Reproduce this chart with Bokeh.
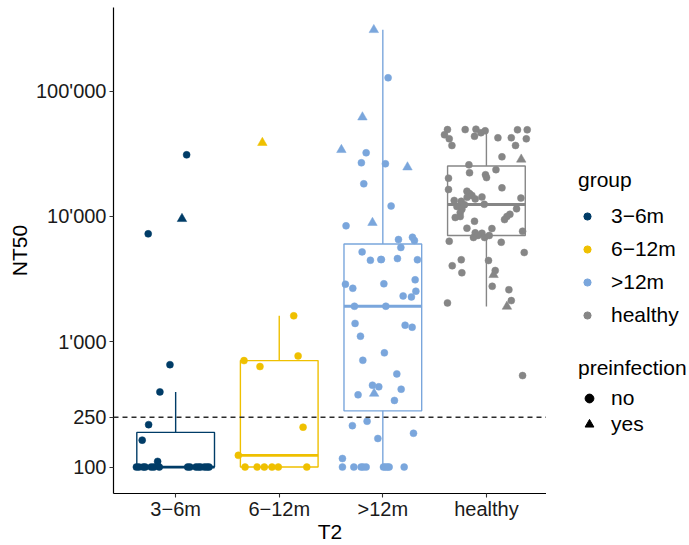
import numpy as np
from bokeh.plotting import figure
from bokeh.layouts import row
from bokeh.models import ColumnDataSource, FixedTicker, Legend, LegendItem, Span, Range1d
from bokeh.embed import file_html
from bokeh.resources import INLINE

# ---------------- data ----------------
categories = ["3−6m", "6−12m", ">12m", "healthy"]
preinfection_levels = ["no", "yes"]
y_ticks = [100, 250, 1000, 10000, 100000]
y_tick_labels = ["100", "250", "1'000", "10'000", "100'000"]
threshold = 250

g36_values = [100, 100, 100, 100, 100, 100, 100, 100, 100, 100, 100, 100, 100, 100, 100,
              111, 164, 218, 398, 656, 7260, 9570, 31000]
g36_jitter = [-0.379, -0.355, -0.313, -0.294, -0.236, -0.210, -0.158, 0.116, 0.138, 0.196,
              0.220, 0.240, 0.278, 0.302, 0.322,
              -0.174, -0.323, -0.261, -0.152, -0.055, -0.265, 0.061, 0.106]
g36_preinf = ["no"] * 21 + ["yes", "no"]

g612_values = [100, 100, 100, 100, 100, 100, 124, 208, 634, 707, 771, 1610, 38700]
g612_jitter = [-0.330, -0.214, -0.144, -0.070, -0.009, 0.266, -0.395, 0.230, -0.186,
               -0.340, 0.182, 0.140, -0.163]
g612_preinf = ["no"] * 12 + ["yes"]

g12_values = [308000, 127700, 61900, 34000, 32200, 26800, 26300, 24700, 18200, 12100,
              8410, 8900, 6540, 6820, 6420, 5650, 5210, 4470, 4530, 4530,
              4610, 4510, 2880, 2670, 2900, 3120, 2530, 2320, 2280, 1920,
              1920, 1400, 1355, 1305, 1107, 815, 711, 554, 450, 437,
              386, 418, 377, 340, 214, 232, 169, 186, 117,
              100, 100, 100, 100, 100, 100, 100, 100, 100, 100]
g12_jitter = [-0.087, 0.051, -0.197, -0.400, -0.161, -0.207, 0.025, 0.238, -0.184, 0.080,
              -0.355, -0.100, 0.151, 0.286, 0.305, 0.174, -0.200, -0.120, -0.019, -0.014,
              0.141, 0.334, -0.361, -0.290, 0.010, 0.312, 0.319, 0.196, 0.276, -0.274,
              0.029, -0.268, 0.215, 0.283, -0.216, 0.015, -0.193, 0.135, -0.100, -0.039,
              -0.084, 0.177, -0.239, 0.112, -0.294, -0.152, -0.048, 0.296, -0.390,
              -0.390, -0.280, -0.210, -0.190, -0.161, 0.006, 0.025, 0.045, 0.061, 0.206]
g12_preinf = ["yes", "no", "yes", "yes", "no", "no", "no", "yes", "no", "no",
              "no", "yes", "no", "no", "no", "no", "no", "no", "no", "no",
              "no", "no", "no", "no", "no", "no", "no", "no", "no", "no",
              "no", "no", "no", "no", "no", "no", "no", "no", "no", "no",
              "yes", "no", "no", "no", "no", "no", "no", "no", "no",
              "no", "no", "no", "no", "no", "no", "no", "no", "no", "no"]

gh_values = [49300, 44800, 41600, 36800, 49300, 49700, 43600, 46500, 48200, 42400,
             42400, 49100, 49100, 41600, 36800, 29900, 28500, 25800, 23600, 22300,
             21500, 20400, 20200, 16400, 16900, 15900, 15200, 14200, 14700, 14300,
             13800, 13400, 13200, 12400, 12000, 14000, 12500, 11400, 10700, 9800,
             9980, 11500, 10400, 9980, 9440, 9150, 8050, 8000, 7390, 7340,
             7040, 6790, 6790, 7040, 7620, 6340, 6220, 5150, 4510, 4040,
             3550, 4450, 3700, 3420, 2770, 2600, 2130, 1910, 2040, 537]
gh_jitter = [-0.376, -0.405, -0.359, -0.333, -0.205, -0.101, -0.115, -0.053, -0.012, 0.111,
             0.240, 0.300, 0.394, 0.385, 0.281, 0.150, 0.336, -0.169, 0.092, -0.163,
             -0.009, 0.001, -0.366, -0.366, 0.150, -0.188, -0.163, -0.186, -0.140, -0.043,
             -0.108, -0.311, -0.243, -0.212, -0.285, 0.333, -0.021, -0.237, -0.253, -0.301,
             -0.253, 0.291, 0.227, 0.198, 0.175, -0.115, -0.188, 0.053, -0.108, -0.043,
             -0.082, -0.125, -0.018, 0.027, 0.349, -0.359, 0.143, 0.365, -0.243, -0.330,
             -0.237, 0.020, 0.085, 0.069, 0.056, 0.217, 0.240, 0.198, -0.376, 0.349]
gh_preinf = ["no"] * 16 + ["yes"] + ["no"] * 46 + ["yes", "no", "no", "no", "yes", "no", "no"]

group_values = [g36_values, g612_values, g12_values, gh_values]
group_jitter = [g36_jitter, g612_jitter, g12_jitter, gh_jitter]
group_preinf = [g36_preinf, g612_preinf, g12_preinf, gh_preinf]

# ---------------- styles ----------------
colors = ["#003C67", "#EFC000", "#7AA6DC", "#868686"]
FONT = "Liberation Sans"
BOX_W = 0.75
MAIN_W = 546
TOTAL_W = 689
H = 545
FRAME_BOTTOM = 493  # canvas px of the frame's bottom edge (shared by both panels of the row)

p = figure(width=MAIN_W, height=H, output_backend="svg", toolbar_location=None,
           x_range=Range1d(0.4, 4.58), y_range=Range1d(10 ** 1.789, 10 ** 5.667),
           y_axis_type="log",
           min_border_left=113, min_border_right=0, min_border_top=7,
           min_border_bottom=H - FRAME_BOTTOM)
p.outline_line_color = None
p.grid.visible = False
p.background_fill_color = "white"
p.border_fill_color = "white"

# ---------------- box statistics (computed on log scale like ggplot) ----------------
bx, q1s, meds, q3s, los, his = [], [], [], [], [], []
for i, vals in enumerate(group_values):
    lv = np.log10(np.array(vals, dtype=float))
    q1, med, q3 = np.percentile(lv, [25, 50, 75])
    iqr = q3 - q1
    lo = lv[lv >= q1 - 1.5 * iqr].min()
    hi = lv[lv <= q3 + 1.5 * iqr].max()
    bx.append(i + 1)
    q1s.append(10 ** q1); meds.append(10 ** med); q3s.append(10 ** q3)
    los.append(10 ** lo); his.append(10 ** hi)

box_src = ColumnDataSource(dict(
    x=bx, left=[x - BOX_W / 2 for x in bx], right=[x + BOX_W / 2 for x in bx],
    q1=q1s, med=meds, q3=q3s, lo=los, hi=his, color=colors))

p.segment(x0="x", y0="q3", x1="x", y1="hi", line_color="color", line_width=1.4, source=box_src)
p.segment(x0="x", y0="lo", x1="x", y1="q1", line_color="color", line_width=1.4, source=box_src)
p.quad(left="left", right="right", bottom="q1", top="q3", fill_color=None,
       line_color="color", line_width=1.4, source=box_src)
p.segment(x0="left", y0="med", x1="right", y1="med", line_color="color", line_width=2.8,
          source=box_src)

# threshold line
p.add_layout(Span(location=threshold, dimension="width", line_color="#2b2b2b",
                  line_width=1.4, line_dash="5 4"))

# ---------------- points ----------------
px, py, pc, pm, ps = [], [], [], [], []
for i, (vals, jit, pre) in enumerate(zip(group_values, group_jitter, group_preinf)):
    for v, j, f in zip(vals, jit, pre):
        px.append(i + 1 + j)
        py.append(v)
        pc.append(colors[i])
        pm.append("triangle" if f == "yes" else "circle")
        ps.append(9.5 if f == "yes" else 7)
pt_src = ColumnDataSource(dict(x=px, y=py, color=pc, marker=pm, size=ps))
p.scatter(x="x", y="y", marker="marker", size="size", fill_color="color",
          line_color="color", line_width=0.5, source=pt_src)

# ---------------- axes ----------------
p.xaxis.ticker = FixedTicker(ticks=[1, 2, 3, 4], minor_ticks=[])
p.xaxis.major_label_overrides = {i + 1: c for i, c in enumerate(categories)}
p.yaxis.ticker = FixedTicker(ticks=y_ticks, minor_ticks=[])
p.yaxis.major_label_overrides = {float(t): l for t, l in zip(y_ticks, y_tick_labels)}
p.xaxis.axis_label = "T2"
p.yaxis.axis_label = "NT50"
for ax in (p.xaxis, p.yaxis):
    ax.axis_line_color = "black"
    ax.axis_line_width = 1.2
    ax.major_tick_line_color = "#333333"
    ax.major_tick_line_width = 1.1
    ax.major_tick_out = 4
    ax.major_tick_in = 0
    ax.minor_tick_out = 0
    ax.minor_tick_in = 0
    ax.major_label_text_font = FONT
    ax.major_label_text_font_size = "20px"
    ax.major_label_text_color = "#1a1a1a"
    ax.axis_label_text_font = FONT
    ax.axis_label_text_font_size = "21px"
    ax.axis_label_text_font_style = "normal"
    ax.axis_label_text_color = "black"
p.yaxis.major_label_standoff = 3
p.yaxis.axis_label_standoff = 2
p.xaxis.major_label_standoff = 0
p.xaxis.axis_label_standoff = -3

# ---------------- legend panel ----------------
lg_fig = figure(width=TOTAL_W - MAIN_W, height=H, output_backend="svg", toolbar_location=None,
                x_range=Range1d(0, 1), y_range=Range1d(0, 1),
                x_axis_location=None, y_axis_location=None,
                min_border_left=0, min_border_right=0, min_border_top=0, min_border_bottom=0)
lg_fig.outline_line_color = None
lg_fig.grid.visible = False
lg_fig.background_fill_color = "white"
lg_fig.border_fill_color = "white"

# legend-key renderers (a single NaN point each, so nothing is plotted)
nan = float("nan")
grp_r = [lg_fig.scatter(x=[nan], y=[nan], marker="circle", size=7, fill_color=c, line_color=c)
         for c in colors]
pre_r = [lg_fig.scatter(x=[nan], y=[nan], marker=m, size=8, fill_color="black",
                        line_color="black")
         for m in ("circle", "triangle")]


def style_legend(lg, spacing, standoff, glyph_w, label_standoff):
    lg.title_text_font = FONT
    lg.title_text_font_size = "21px"
    lg.title_text_font_style = "normal"
    lg.title_text_color = "black"
    lg.title_standoff = standoff
    lg.label_text_font = FONT
    lg.label_text_font_size = "21px"
    lg.label_text_color = "black"
    lg.label_standoff = label_standoff
    lg.glyph_width = glyph_w
    lg.glyph_height = 24
    lg.label_height = 24
    lg.spacing = spacing
    lg.padding = 0
    lg.margin = 0
    lg.border_line_color = None
    lg.background_fill_alpha = 0


# location = bottom-left corner of the legend, px from the (row-aligned) frame's bottom-left
leg_group = Legend(items=[LegendItem(label=c, renderers=[r]) for c, r in zip(categories, grp_r)],
                   title="group", location=(32, FRAME_BOTTOM - 327))
style_legend(leg_group, 9, 12, 18, 15)
leg_pre = Legend(items=[LegendItem(label=l, renderers=[r])
                        for l, r in zip(preinfection_levels, pre_r)],
                 title="preinfection", location=(32, FRAME_BOTTOM - 436))
style_legend(leg_pre, 2, 6, 22, 11)
lg_fig.add_layout(leg_group)
lg_fig.add_layout(leg_pre)

layout = row(p, lg_fig, spacing=0)
open("out.html", "w").write(file_html(layout, INLINE))
